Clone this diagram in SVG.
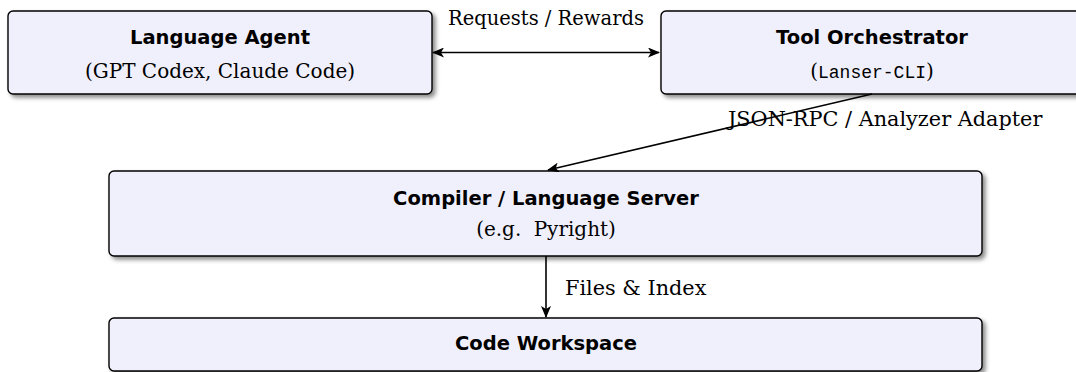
<svg xmlns="http://www.w3.org/2000/svg" width="1076" height="372" viewBox="0 0 1076 372">
<defs>
<filter id="sh" x="-5%" y="-20%" width="115%" height="150%">
<feDropShadow dx="3" dy="3" stdDeviation="2" flood-color="#000" flood-opacity="0.45"/>
</filter>
<marker id="ah" viewBox="0 0 12 10" refX="11" refY="5" markerWidth="12" markerHeight="10" markerUnits="userSpaceOnUse" orient="auto-start-reverse">
<path d="M0,0 L12,5 L0,10 L3,5 Z" fill="#000"/>
</marker>
</defs>
<style>
.box{fill:#f0f0fd;stroke:#000;stroke-width:1.4;filter:url(#sh)}
.t{font-family:"DejaVu Sans","Liberation Sans",sans-serif;font-weight:bold;font-size:19.5px;text-anchor:middle;fill:#000}
.s{font-family:"DejaVu Serif","Liberation Serif",serif;font-size:20px;text-anchor:middle;fill:#000}
.m{font-family:"Liberation Mono",monospace;font-size:18px;text-anchor:middle;fill:#000}
.l{font-family:"DejaVu Serif","Liberation Serif",serif;font-size:20.8px;fill:#000}
.c{stroke:#000;stroke-width:1.6;fill:none}
</style>
<g id="agent">
<rect class="box" x="8" y="11" width="424" height="83" rx="5"/>
<text class="t" x="220" y="44">Language Agent</text>
<text class="s" x="220" y="78">(GPT Codex, Claude Code)</text>
</g>
<g id="orchestrator">
<rect class="box" x="661" y="11" width="422" height="83" rx="5"/>
<text class="t" x="872" y="44">Tool Orchestrator</text>
<text class="s" x="872" y="78">(<tspan class="m" style="text-anchor:start">Lanser-CLI</tspan>)</text>
</g>
<g id="server">
<rect class="box" x="109" y="171" width="873" height="85" rx="5"/>
<text class="t" x="546" y="205">Compiler / Language Server</text>
<text class="s" x="546" y="236" word-spacing="6">(e.g. Pyright)</text>
</g>
<g id="workspace">
<rect class="box" x="109" y="318" width="873" height="53" rx="5"/>
<text class="t" x="546" y="350">Code Workspace</text>
</g>
<g id="connectors">
<line class="c" x1="433" y1="52.5" x2="659" y2="52.5" marker-start="url(#ah)" marker-end="url(#ah)"/>
<text class="l" x="546" y="25" text-anchor="middle" style="font-size:19.5px">Requests / Rewards</text>
<line class="c" x1="872" y1="94" x2="548" y2="170" marker-end="url(#ah)"/>
<text class="l" x="728" y="126">JSON-RPC / Analyzer Adapter</text>
<line class="c" x1="546" y1="256" x2="546" y2="317" marker-end="url(#ah)"/>
<text class="l" x="565" y="295">Files &amp; Index</text>
</g>
</svg>
